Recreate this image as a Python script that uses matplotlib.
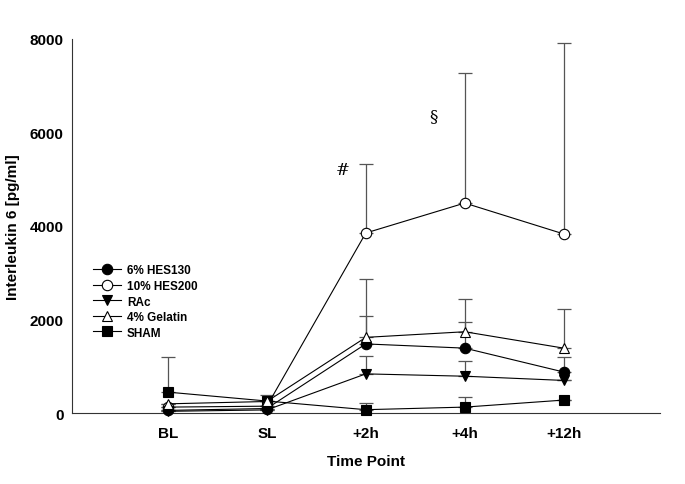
import matplotlib.pyplot as plt
import numpy as np

plt.rcParams['font.family'] = ['Liberation Sans', 'DejaVu Sans']

time_points = ['BL', 'SL', '+2h', '+4h', '+12h']
groups = ['6% HES130', '10% HES200', 'RAc', '4% Gelatin', 'SHAM']

# means and upper error (mean + SD)
hes130 = [60, 100, 1480, 1390, 880]
hes130_up = [60, 100, 2075, 1950, 1200]
hes200 = [130, 150, 3850, 4490, 3830]
hes200_up = [130, 150, 5320, 7270, 7900]
rac = [40, 70, 840, 790, 700]
rac_up = [40, 70, 1220, 1110, 700]
gelatin = [200, 250, 1620, 1740, 1390]
gelatin_up = [200, 385, 2860, 2440, 2230]
sham = [450, 260, 75, 130, 280]
sham_up = [1200, 260, 215, 340, 280]

means = [hes130, hes200, rac, gelatin, sham]
uppers = [hes130_up, hes200_up, rac_up, gelatin_up, sham_up]
markers = ['o', 'o', 'v', '^', 's']
faces = ['black', 'white', 'black', 'white', 'black']
zorders = [5, 4, 6, 7, 3]

fig = plt.figure(figsize=(6.85, 4.85), dpi=100)
ax = fig.add_axes([0.105, 0.146, 0.858, 0.772])

x = np.arange(1, len(time_points) + 1)
handles = []
for m, up, mk, fc, lab, z in zip(means, uppers, markers, faces, groups, zorders):
    m = np.array(m)
    err = np.clip(np.array(up) - m, 0, None)
    ax.errorbar(x, m, yerr=[np.zeros_like(err), err], fmt='none',
                ecolor='#555555', elinewidth=0.9, capsize=5, capthick=0.9, zorder=2)
    h, = ax.plot(x, m, color='black', lw=0.8, marker=mk, markersize=7.5,
                 markerfacecolor=fc, markeredgecolor='black', markeredgewidth=0.8,
                 label=lab, zorder=z, clip_on=False)
    handles.append(h)

ax.set_xlim(0.03, 5.97)
ax.set_ylim(0, 8000)
ax.set_xticks(x)
ax.set_xticklabels(time_points, fontweight='bold', fontsize=11)
ax.set_yticks([0, 2000, 4000, 6000, 8000])
ax.set_yticklabels(['0', '2000', '4000', '6000', '8000'], fontweight='bold', fontsize=11)
ax.tick_params(axis='y', length=0, pad=6)
ax.tick_params(axis='x', length=0, pad=9)
ax.spines['top'].set_visible(False)
ax.spines['right'].set_visible(False)
ax.spines['left'].set_color('#333333')
ax.spines['bottom'].set_color('#333333')

ax.set_xlabel('Time Point', fontweight='bold', fontsize=11, labelpad=10)
ax.set_ylabel('Interleukin 6 [pg/ml]', fontweight='bold', fontsize=11)
ax.yaxis.set_label_coords(-0.088, 0.5)

ax.text(2.77, 5200, '#', fontsize=12, ha='center', va='center', family='DejaVu Serif')
ax.text(3.68, 6350, '§', fontsize=12, ha='center', va='center', family='DejaVu Serif')

ax.legend(handles=handles, loc='upper left', bbox_to_anchor=(0.025, 0.413), frameon=False,
          prop={'weight': 'bold', 'size': 8.5}, handlelength=2.4,
          labelspacing=0.3, handletextpad=0.5, borderpad=0)

fig.savefig('out.png', dpi=100)
